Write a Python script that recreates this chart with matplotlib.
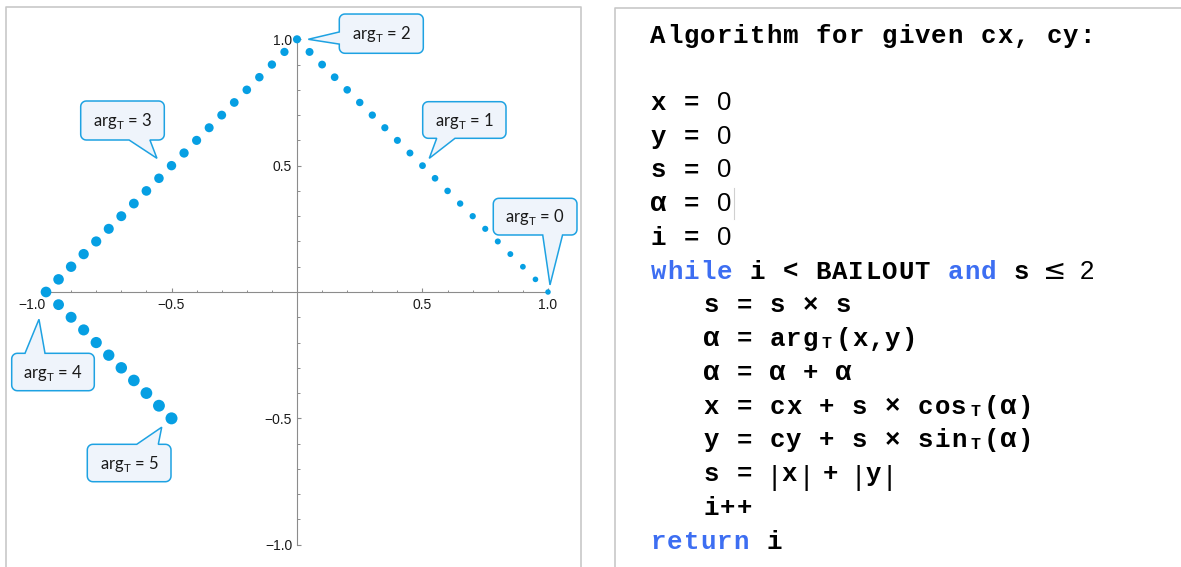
import numpy as np
import matplotlib
matplotlib.use("Agg")
import matplotlib.pyplot as plt
from matplotlib.path import Path
from matplotlib.patches import PathPatch
from matplotlib.lines import Line2D
from matplotlib.ticker import FixedLocator

plt.rcParams['mathtext.fontset'] = 'custom'
plt.rcParams['mathtext.rm'] = 'Lato'

# ---------------- data ----------------
arg_t = [0.0, 0.1, 0.2, 0.3, 0.4, 0.5, 0.6, 0.7, 0.8, 0.9,
         1.0, 1.1, 1.2, 1.3, 1.4, 1.5, 1.6, 1.7, 1.8, 1.9,
         2.0, 2.1, 2.2, 2.3, 2.4, 2.5, 2.6, 2.7, 2.8, 2.9,
         3.0, 3.1, 3.2, 3.3, 3.4, 3.5, 3.6, 3.7, 3.8, 3.9,
         4.0, 4.1, 4.2, 4.3, 4.4, 4.5, 4.6, 4.7, 4.8, 4.9, 5.0]
x_vals = [1.00, 0.95, 0.90, 0.85, 0.80, 0.75, 0.70, 0.65, 0.60, 0.55,
          0.50, 0.45, 0.40, 0.35, 0.30, 0.25, 0.20, 0.15, 0.10, 0.05,
          0.00, -0.05, -0.10, -0.15, -0.20, -0.25, -0.30, -0.35, -0.40, -0.45,
          -0.50, -0.55, -0.60, -0.65, -0.70, -0.75, -0.80, -0.85, -0.90, -0.95,
          -1.00, -0.95, -0.90, -0.85, -0.80, -0.75, -0.70, -0.65, -0.60, -0.55, -0.50]
y_vals = [0.00, 0.05, 0.10, 0.15, 0.20, 0.25, 0.30, 0.35, 0.40, 0.45,
          0.50, 0.55, 0.60, 0.65, 0.70, 0.75, 0.80, 0.85, 0.90, 0.95,
          1.00, 0.95, 0.90, 0.85, 0.80, 0.75, 0.70, 0.65, 0.60, 0.55,
          0.50, 0.45, 0.40, 0.35, 0.30, 0.25, 0.20, 0.15, 0.10, 0.05,
          0.00, -0.05, -0.10, -0.15, -0.20, -0.25, -0.30, -0.35, -0.40, -0.45, -0.50]

major_ticks = [-1.0, -0.5, 0.5, 1.0]
major_labels = ["\u22121.0", "\u22120.5", "0.5", "1.0"]
minor_ticks = [-0.9, -0.8, -0.7, -0.6, -0.4, -0.3, -0.2, -0.1,
               0.1, 0.2, 0.3, 0.4, 0.6, 0.7, 0.8, 0.9]

callout_labels = ["arg$_\\mathregular{T}$ = 0", "arg$_\\mathregular{T}$ = 1",
                  "arg$_\\mathregular{T}$ = 2", "arg$_\\mathregular{T}$ = 3",
                  "arg$_\\mathregular{T}$ = 4", "arg$_\\mathregular{T}$ = 5"]

code_header = "Algorithm for given cx, cy:"

# ---------------- layout ----------------
W, H = 1181, 567
fig = plt.figure(figsize=(W / 100, H / 100), dpi=100)
fig.patch.set_facecolor("white")

ax = fig.add_axes([6 / W, 0, (581 - 6) / W, (567 - 7) / H])
ax.set_xlim(-1.1594, 1.1315)
ax.set_ylim(-1.0882, 1.1278)
ax.patch.set_visible(False)

axis_col = "#8c8c8c"
for s in ("top", "right"):
    ax.spines[s].set_visible(False)
ax.spines["left"].set_position(("data", 0))
ax.spines["bottom"].set_position(("data", 0))
for s in ("left", "bottom"):
    ax.spines[s].set_bounds(-1, 1)
    ax.spines[s].set_color(axis_col)
    ax.spines[s].set_linewidth(0.8)

for axis in (ax.xaxis, ax.yaxis):
    axis.set_major_locator(FixedLocator(major_ticks))
    axis.set_minor_locator(FixedLocator(minor_ticks))
ax.set_xticklabels(major_labels)
ax.set_yticklabels(major_labels)
ax.tick_params(which="major", direction="in", length=3.0, width=0.8, color=axis_col,
               labelsize=10, labelcolor="#1a1a1a")
ax.tick_params(which="minor", direction="in", length=1.8, width=0.7, color=axis_col)
ax.tick_params(axis="x", pad=4)
ax.tick_params(axis="y", pad=3.5)
for lab in ax.get_xticklabels() + ax.get_yticklabels():
    lab.set_fontfamily("Liberation Sans")
ax.get_xticklabels()[0].set_horizontalalignment("right")

# points
sizes_px = [5.5 + 1.3 * a for a in arg_t]
sizes = [(d * 0.72) ** 2 for d in sizes_px]
ax.scatter(x_vals, y_vals, s=sizes, color="#069fe3", edgecolors="none",
           zorder=3, clip_on=False)

# callouts
def arc(cx, cy, r, a0, a1, n=7):
    t = np.radians(np.linspace(a0, a1, n))
    return list(zip(cx + r * np.cos(t), cy + r * np.sin(t)))

def callout_path(x0, x1, y0, y1, side, b0, b1, tip, r=0.022):
    v = [(x0 + r, y0)]
    if side == "bottom":
        v += [(b0, y0), tip, (b1, y0)]
    v.append((x1 - r, y0))
    v += arc(x1 - r, y0 + r, r, -90, 0)
    v.append((x1, y1 - r))
    v += arc(x1 - r, y1 - r, r, 0, 90)
    if side == "top":
        v += [(b1, y1), tip, (b0, y1)]
    v.append((x0 + r, y1))
    v += arc(x0 + r, y1 - r, r, 90, 180)
    if side == "left":
        v += [(x0, b1), tip, (x0, b0)]
    v.append((x0, y0 + r))
    v += arc(x0 + r, y0 + r, r, 180, 270)
    v.append(v[0])
    codes = [Path.MOVETO] + [Path.LINETO] * (len(v) - 2) + [Path.CLOSEPOLY]
    return Path(v, codes)

callout_geom = [
    ((0.782, 1.1155, 0.2256, 0.3708), "bottom", (0.979, 1.058), (1.008, 0.028)),
    ((0.5008, 0.8327, 0.6082, 0.7531), "bottom", (0.5566, 0.6295), (0.527, 0.529)),
    ((0.1685, 0.5032, 0.9446, 1.100), "left", (0.981, 1.029), (0.045, 1.0)),
    ((-0.8618, -0.5287, 0.6015, 0.7558), "bottom", (-0.669, -0.586), (-0.558, 0.529)),
    ((-1.1367, -0.8076, -0.3906, -0.2426), "top", (-1.0837, -1.004), (-1.028, -0.108)),
    ((-0.8355, -0.502, -0.7507, -0.6027), "top", (-0.6386, -0.5526), (-0.539, -0.535)),
]
for label, (box, side, base, tip) in zip(callout_labels, callout_geom):
    x0, x1, y0, y1 = box
    p = callout_path(x0, x1, y0, y1, side, base[0], base[1], tip)
    ax.add_patch(PathPatch(p, facecolor="#eff4fb", edgecolor="#1ea2e2",
                           linewidth=1.1, zorder=4, clip_on=False))
    ax.text((x0 + x1) / 2, (y0 + y1) / 2 - 0.022, label, ha="center", va="baseline",
            fontsize=12, family="Lato", color="#1a1a1a", zorder=5)

# ---------------- overlay: frames and code ----------------
ov = fig.add_axes([0, 0, 1, 1], zorder=10)
ov.set_xlim(0, W)
ov.set_ylim(H, 0)
ov.axis("off")
frame_col = "#c8c8c8"
ov.add_line(Line2D([6, 6, 581, 581], [567, 7, 7, 567], color=frame_col, lw=1.2))
ov.add_line(Line2D([615, 615, W], [567, 8, 8], color=frame_col, lw=1.2))

BLUE = "#3d6ef2"
MONO = dict(family="Liberation Mono", weight="bold", fontsize=18.5)
styles = {
    "m": dict(MONO, color="black"),
    "b": dict(MONO, color=BLUE),
    "d": dict(family="Liberation Sans", weight="normal", fontsize=18.5, color="black"),
    "g": dict(family="Liberation Sans", weight="bold", fontsize=19.5, color="black"),
    "le": dict(family="DejaVu Sans", weight="normal", fontsize=20, color="black"),
    "sub": dict(family="Liberation Mono", weight="bold", fontsize=12, color="black"),
    "bar": dict(family="Liberation Sans", weight="normal", fontsize=20, color="black"),
}

CW = 16.5
X0, XI = 650, 703
code_lines = [
    (X0, [(0, "x = ", "m"), (4, "0", "d")]),
    (X0, [(0, "y = ", "m"), (4, "0", "d")]),
    (X0, [(0, "s = ", "m"), (4, "0", "d")]),
    (X0, [(0, "\u03b1", "g"), (1, " = ", "m"), (4, "0", "d")]),
    (X0, [(0, "i = ", "m"), (4, "0", "d")]),
    (X0, [(0, "while", "b"), (5, " i < BAILOUT ", "m"), (18, "and", "b"), (21, " s ", "m"),
          (24, "\u2264", "le"), (26, "2", "d")]),
    (XI, [(0, "s = s \u00d7 s", "m")]),
    (XI, [(0, "\u03b1", "g"), (1, " = arg", "m"), (7, "T", "sub"), (8, "(x,y)", "m")]),
    (XI, [(0, "\u03b1", "g"), (1, " = ", "m"), (4, "\u03b1", "g"), (5, " + ", "m"), (8, "\u03b1", "g")]),
    (XI, [(0, "x = cx + s \u00d7 cos", "m"), (16, "T", "sub"), (17, "(", "m"), (18, "\u03b1", "g"), (19, ")", "m")]),
    (XI, [(0, "y = cy + s \u00d7 sin", "m"), (16, "T", "sub"), (17, "(", "m"), (18, "\u03b1", "g"), (19, ")", "m")]),
    (XI, [(0, "s = ", "m"), (3.80, "|", "bar"), (4.71, "x", "m"), (5.74, "|", "bar"),
          (7.20, "+", "m"), (8.89, "|", "bar"), (9.80, "y", "m"), (10.77, "|", "bar")]),
    (XI, [(0, "i++", "m")]),
    (X0, [(0, "return", "b"), (6, " i", "m")]),
]

def put_mono(x0, col, txt, base, st):
    for i, ch in enumerate(txt):
        if ch != " ":
            ov.text(x0 + (col + i + 0.5) * CW, base, ch, ha="center", va="baseline",
                    **styles[st])

put_mono(X0, 0, code_header, 42.7, "m")
for k, (x0, toks) in enumerate(code_lines):
    base = 109.8 + 33.75 * k
    for col, txt, st in toks:
        if st in ("m", "b"):
            put_mono(x0, col, txt, base, st)
        elif st == "bar":
            ov.text(x0 + (col + 0.5) * CW, base + 4, txt, ha="center", va="baseline", **styles[st])
        elif st == "sub":
            ov.text(x0 + (col + 0.5) * CW, base + 2, txt, ha="center", va="baseline", **styles[st])
        else:
            ov.text(x0 + (col + 0.5) * CW, base, txt, ha="center", va="baseline", **styles[st])

# text caret after "α = 0"
ov.add_line(Line2D([734, 734], [188, 219], color="#d0d0d0", lw=0.8))

fig.savefig("out.png", dpi=100, facecolor="white")
